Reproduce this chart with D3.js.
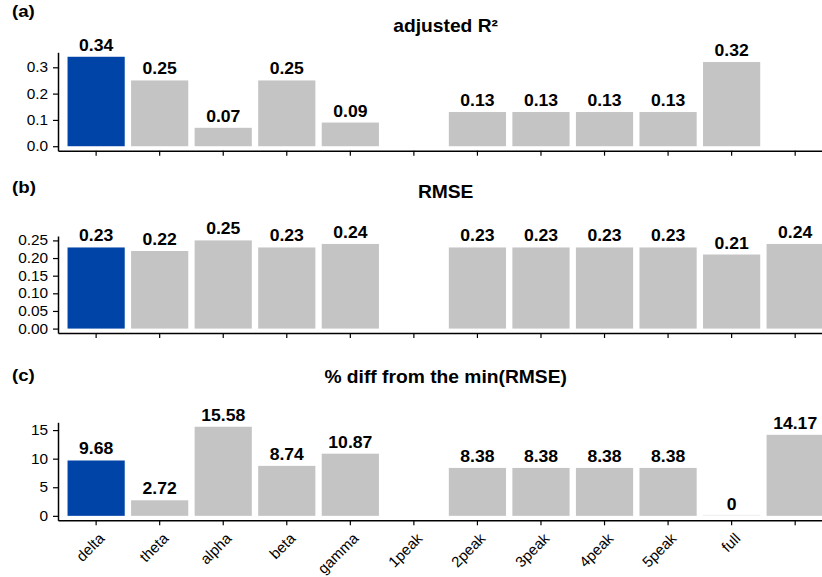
<!DOCTYPE html>
<html>
<head>
<meta charset="utf-8">
<script src="https://cdn.jsdelivr.net/npm/d3@7"></script>
<style>
  html, body { margin: 0; padding: 0; background: #fff; }
  #wrap { position: relative; width: 822px; height: 577px; overflow: hidden; font-family: "Liberation Sans", Arial, Helvetica, sans-serif; }
  svg { display: block; font-family: "Liberation Sans", Arial, Helvetica, sans-serif; }
  .cat { position: absolute; width: 0; height: 0; transform: rotate(-45deg); transform-origin: 0 0; }
  .cat span { position: absolute; right: 0; bottom: -4px; font-size: 15px; line-height: 15px; white-space: nowrap; color: #000; }
</style>
</head>
<body>
<div id="wrap">
<svg id="chart" width="822" height="577"></svg>
</div>
<script>
// Model categories (last slot has no name)
const categories = ["delta", "theta", "alpha", "beta", "gamma", "1peak", "2peak", "3peak", "4peak", "5peak", "full", ""];

// Metric values per category (null = no bar)
const adjR2   = [0.34, 0.25, 0.07, 0.25, 0.09, null, 0.13, 0.13, 0.13, 0.13, 0.32, null];
const rmse    = [0.23, 0.22, 0.25, 0.23, 0.24, null, 0.23, 0.23, 0.23, 0.23, 0.21, 0.24];
const pctDiff = [9.68, 2.72, 15.58, 8.74, 10.87, null, 8.38, 8.38, 8.38, 8.38, 0, 14.17];

// Tick values and panel texts
const ticksR2   = [0, 0.1, 0.2, 0.3];
const ticksRmse = [0, 0.05, 0.10, 0.15, 0.20, 0.25];
const ticksPct  = [0, 5, 10, 15];
const tags   = ["(a)", "(b)", "(c)"];
const titles = ["adjusted R\u00B2", "RMSE", "% diff from the min(RMSE)"];

const highlight = "delta";
const colHighlight = "#0044a8";
const colOther = "#c4c4c4";
const sx = 1.1; // horizontal text stretch

const panels = [
  { values: adjR2,   ticks: ticksR2,   fmt: d3.format(".1f"), top: 52.3,  bottom: 150.7, titleY: 31.5,  tagY: 17 },
  { values: rmse,    ticks: ticksRmse, fmt: d3.format(".2f"), top: 236,   bottom: 333,   titleY: 197.7, tagY: 192.5 },
  { values: pctDiff, ticks: ticksPct,  fmt: d3.format("d"),   top: 422.3, bottom: 520.3, titleY: 382.7, tagY: 380.5 }
];

const svg = d3.select("#chart");
const wrap = d3.select("#wrap");
const left = 58, step = 63.55;
const x = d3.scaleBand()
  .domain(d3.range(categories.length))
  .range([left, left + (categories.length + 0.2) * step])
  .paddingInner(0.1)
  .paddingOuter(0.15);

panels.forEach((p, pi) => {
  const vmax = d3.max(p.values.filter(v => v != null));
  const y = d3.scaleLinear()
    .domain([-0.05 * vmax, 1.05 * vmax])
    .range([p.bottom, p.top]);

  const g = svg.append("g");

  // tag and title
  g.append("text")
    .attr("transform", `translate(12,${p.tagY}) scale(${sx},1)`)
    .attr("font-size", 17).attr("font-weight", "bold")
    .text(tags[pi]);
  g.append("text")
    .attr("transform", `translate(${(x.range()[0] + x.range()[1]) / 2},${p.titleY}) scale(${sx},1)`)
    .attr("text-anchor", "middle")
    .attr("font-size", 17.5).attr("font-weight", "bold")
    .text(titles[pi]);

  const data = p.values.map((v, i) => ({ i, v, name: categories[i] })).filter(d => d.v != null);

  // bars
  g.selectAll("rect.bar").data(data).join("rect")
    .attr("class", "bar")
    .attr("x", d => x(d.i))
    .attr("width", x.bandwidth())
    .attr("y", d => d.v === 0 ? y(0) - 1 : y(d.v))
    .attr("height", d => d.v === 0 ? 1 : y(0) - y(d.v))
    .attr("fill", d => d.name === highlight ? colHighlight : colOther)
    .attr("fill-opacity", d => d.v === 0 ? 0.3 : 1);

  // value labels
  g.selectAll("text.val").data(data).join("text")
    .attr("class", "val")
    .attr("transform", d => `translate(${x(d.i) + x.bandwidth() / 2},${y(d.v) - 6}) scale(${sx},1)`)
    .attr("text-anchor", "middle")
    .attr("font-size", 16).attr("font-weight", "bold")
    .text(d => String(d.v));

  // y axis
  const ya = g.append("g")
    .attr("transform", `translate(${left},0)`)
    .call(d3.axisLeft(y).tickValues(p.ticks).tickFormat(p.fmt).tickSize(5).tickSizeOuter(0).tickPadding(4));
  ya.select(".domain").attr("stroke", "#000").attr("stroke-width", 1.5);
  ya.selectAll(".tick line").attr("stroke", "#000").attr("stroke-width", 1.2);
  ya.selectAll(".tick text")
    .attr("font-size", 14).attr("fill", "#000").attr("font-family", null)
    .attr("transform", `scale(${sx},1)`);

  // x axis (ticks only; category names drawn below)
  const xa = g.append("g")
    .attr("transform", `translate(0,${p.bottom})`)
    .call(d3.axisBottom(x).tickFormat("").tickSize(5).tickSizeOuter(0));
  xa.select(".domain").attr("stroke", "#000").attr("stroke-width", 1.5);
  xa.selectAll(".tick line").attr("stroke", "#000").attr("stroke-width", 1.2);

  if (pi === panels.length - 1) {
    // rotated category names, anchored at their end below each tick
    wrap.selectAll("div.cat").data(categories.map((c, i) => ({ c, i }))).join("div")
      .attr("class", "cat")
      .style("left", d => `${x(d.i) + x.bandwidth() / 2 + 8}px`)
      .style("top", `${p.bottom + 18}px`)
      .append("span")
      .text(d => d.c);
  }
});
</script>
</body>
</html>
